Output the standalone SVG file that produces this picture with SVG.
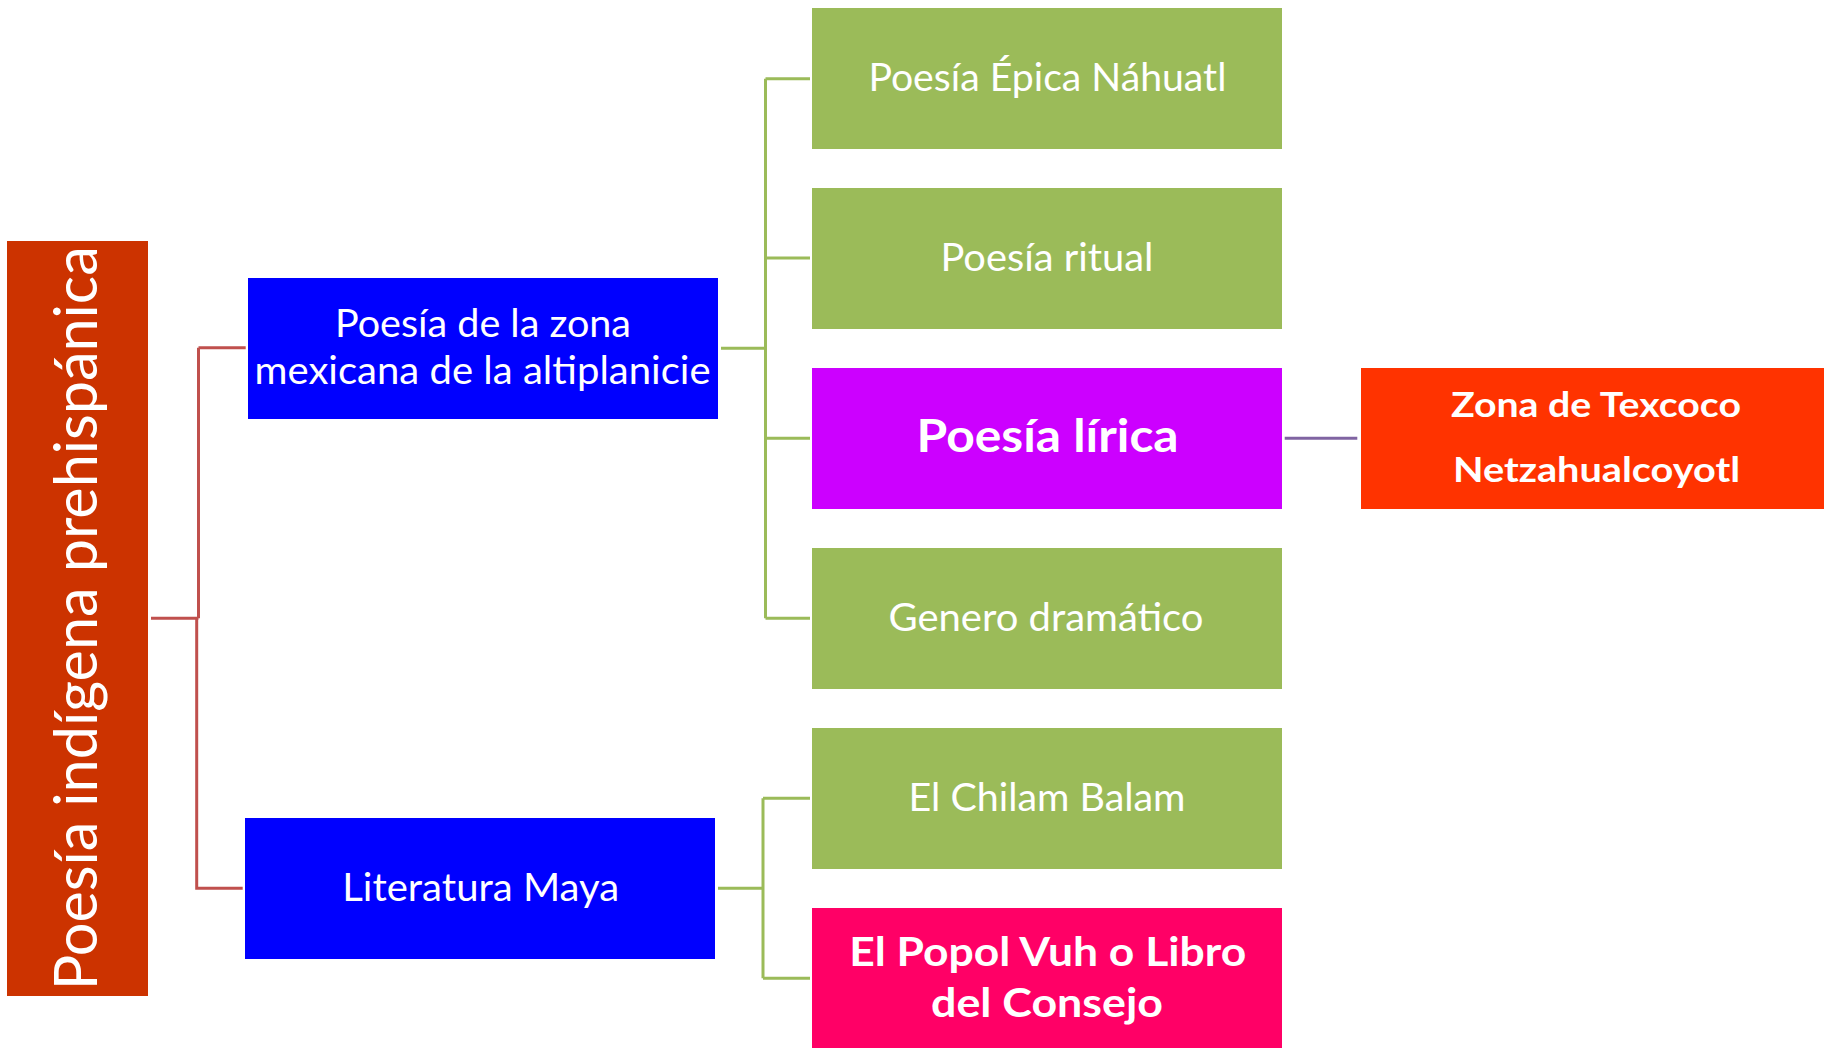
<svg xmlns="http://www.w3.org/2000/svg" width="1824" height="1048" viewBox="0 0 1824 1048">
<style>
.t{font-family:Lato,"Open Sans","Liberation Sans",sans-serif;fill:#FFFFFF;text-anchor:middle}
.r{font-size:38px;font-weight:normal}
.b{font-weight:bold}
.red{stroke:#C0504D;stroke-width:3;fill:none}
.grn{stroke:#9BBB59;stroke-width:3;fill:none}
.pur{stroke:#8064A2;stroke-width:3;fill:none}
</style>
<rect width="1824" height="1048" fill="#FFFFFF"/>
<g id="connectors">
<path class="red" d="M151,618.3 H198.5 M198.5,347.7 V618.3 M198.5,347.7 H245.7 M196.7,618.3 V888.3 H242.7"/>
<path class="grn" d="M721,348.3 H765.5 M765.5,78.7 V618.3 M765.5,78.7 H810 M765.5,258 H810 M765.5,438.3 H810 M765.5,618.3 H810"/>
<path class="grn" d="M718,888.3 H763 M763,798.3 V978.3 M763,798.3 H810 M763,978.3 H810"/>
<path class="pur" d="M1284.7,438.3 H1357.3"/>
</g>
<g id="root">
<rect x="7" y="241" width="141" height="755" fill="#CC3300"/>
<text class="t" font-size="60" transform="translate(96.7,618.3) rotate(-90)" x="0" y="0" textLength="744" lengthAdjust="spacingAndGlyphs">Poesía indígena prehispánica</text>
</g>
<g id="mexicana">
<rect x="248" y="278" width="470" height="141" fill="#0000FF"/>
<text class="t r" x="483" y="336.7" textLength="296" lengthAdjust="spacingAndGlyphs">Poesía de la zona</text>
<text class="t r" x="482.6" y="384" textLength="456" lengthAdjust="spacingAndGlyphs">mexicana de la altiplanicie</text>
</g>
<g id="maya">
<rect x="245" y="818" width="470" height="141" fill="#0000FF"/>
<text class="t r" x="480.7" y="900.7" textLength="277" lengthAdjust="spacingAndGlyphs">Literatura Maya</text>
</g>
<g id="epica">
<rect x="812" y="8" width="470" height="141" fill="#9BBB59"/>
<text class="t r" x="1047.4" y="90.7" textLength="358" lengthAdjust="spacingAndGlyphs">Poesía Épica Náhuatl</text>
</g>
<g id="ritual">
<rect x="812" y="188" width="470" height="141" fill="#9BBB59"/>
<text class="t r" x="1047" y="270.7" textLength="213" lengthAdjust="spacingAndGlyphs">Poesía ritual</text>
</g>
<g id="lirica">
<rect x="812" y="368" width="470" height="141" fill="#CC00FF"/>
<text class="t b" font-size="45" x="1047.6" y="452.3" textLength="262" lengthAdjust="spacingAndGlyphs">Poesía lírica</text>
</g>
<g id="texcoco">
<rect x="1361" y="368" width="470" height="141" fill="#FF3300"/>
<text class="t b" font-size="35" x="1596" y="416.7" textLength="290" lengthAdjust="spacingAndGlyphs">Zona de Texcoco</text>
<text class="t b" font-size="35" x="1596.5" y="482.3" textLength="287" lengthAdjust="spacingAndGlyphs">Netzahualcoyotl</text>
</g>
<g id="dramatico">
<rect x="812" y="548" width="470" height="141" fill="#9BBB59"/>
<text class="t r" x="1046" y="630.7" textLength="315" lengthAdjust="spacingAndGlyphs">Genero dramático</text>
</g>
<g id="chilam">
<rect x="812" y="728" width="470" height="141" fill="#9BBB59"/>
<text class="t r" x="1047" y="811" textLength="277" lengthAdjust="spacingAndGlyphs">El Chilam Balam</text>
</g>
<g id="popol">
<rect x="812" y="908" width="470" height="141" fill="#FF0066"/>
<text class="t b" font-size="39.5" x="1047.7" y="965.7" textLength="397" lengthAdjust="spacingAndGlyphs">El Popol Vuh o Libro</text>
<text class="t b" font-size="39.5" x="1047" y="1017.3" textLength="232" lengthAdjust="spacingAndGlyphs">del Consejo</text>
</g>
</svg>
